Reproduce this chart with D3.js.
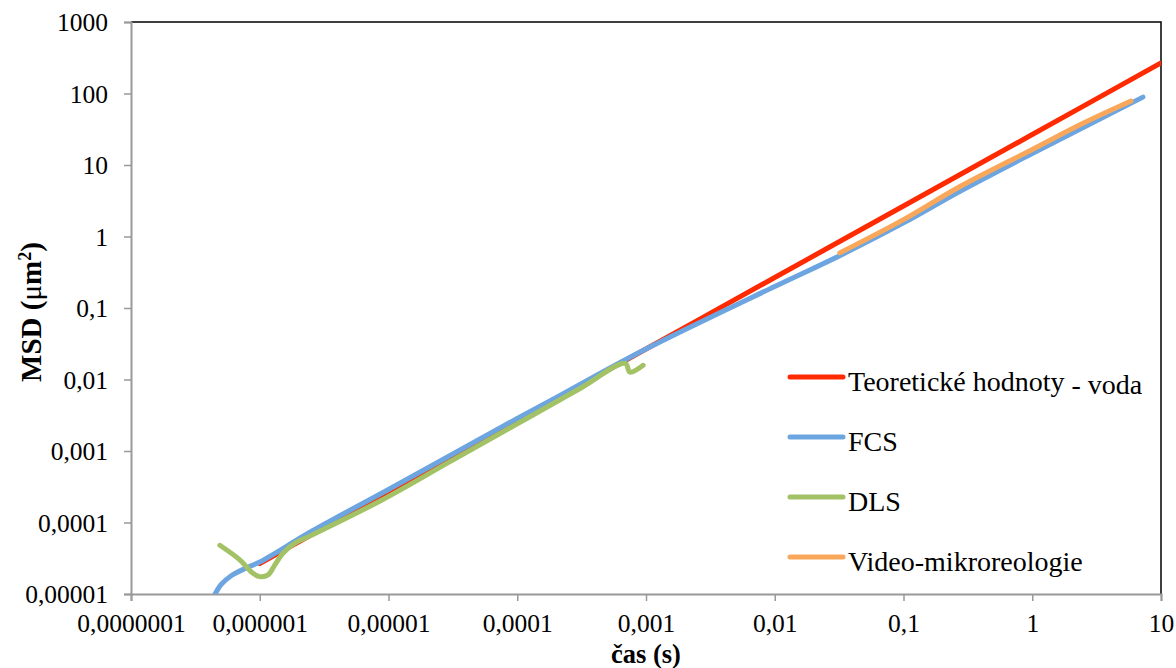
<!DOCTYPE html>
<html>
<head>
<meta charset="utf-8">
<script src="https://cdn.jsdelivr.net/npm/d3@7"></script>
<style>
  body { margin: 0; background: #fff; }
</style>
</head>
<body>
<div id="chart"></div>
<script>
// x: time (s), y: MSD (um^2)
const seriesNames = ["Teoretické hodnoty", "FCS", "DLS", "Video-mikroreologie"];
const seriesColors = ["#ff2a00", "#6ca5df", "#a3c266", "#f9a85b"];

const theoryT = [1e-6, 1e-5, 1e-4, 1e-3, 1e-2, 1e-1, 1, 10];
const theoryMsd = [2.67e-5, 2.67e-4, 2.67e-3, 0.0267, 0.267, 2.67, 26.7, 267];

const fcsT = [4.5e-7, 5e-7, 6e-7, 8e-7, 1e-6, 2.55e-6, 1e-5, 1e-4, 1.79e-4, 9e-4, 1e-2, 0.032, 0.1, 0.275, 1, 7.24];
const fcsMsd = [1.0e-5, 1.35e-5, 1.8e-5, 2.35e-5, 2.8e-5, 7.6e-5, 2.9e-4, 2.85e-3, 5.0e-3, 0.0243, 0.2, 0.54, 1.55, 4.3, 14.5, 89];

const dlsT = [4.9e-7, 7e-7, 8.7e-7, 1e-6, 1.16e-6, 1.31e-6, 1.52e-6, 1.88e-6, 2.46e-6, 8.6e-6, 3e-5, 1e-4, 3e-4, 6.9e-4, 7.5e-4, 9.5e-4];
const dlsMsd = [4.8e-5, 3.0e-5, 2.0e-5, 1.75e-5, 1.85e-5, 2.55e-5, 3.74e-5, 5.16e-5, 6.5e-5, 2.0e-4, 7.1e-4, 2.4e-3, 7.3e-3, 0.0168, 0.0127, 0.0158];

const videoT = [0.032, 0.1, 0.275, 1, 2.5, 5.85];
const videoMsd = [0.59, 1.72, 5.0, 16.5, 38.6, 78.5];

const xTicks = [1e-7, 1e-6, 1e-5, 1e-4, 1e-3, 1e-2, 1e-1, 1, 10];
const yTicks = [1e-5, 1e-4, 1e-3, 1e-2, 1e-1, 1, 10, 100, 1000];

const W = 1176, H = 668;
const M = {left: 131, top: 22, right: 15, bottom: 74};
const FONT = "Liberation Serif";

const svg = d3.select("#chart").append("svg")
    .attr("width", W)
    .attr("height", H)
    .attr("font-family", FONT);

const x = d3.scaleLog().domain([1e-7, 10]).range([M.left, W - M.right]);
const y = d3.scaleLog().domain([1e-5, 1000]).range([H - M.bottom, M.top]);

// Czech style numbers: 0,001
const fmt = v => {
    const e = Math.round(Math.log10(v));
    return e >= 0 ? String(Math.pow(10, e)) : "0," + "0".repeat(-e - 1) + "1";
};

// frame: top & right black
svg.append("path")
    .attr("d", `M${x(1e-7)},${y(1000)}H${x(10)}V${y(1e-5)}`)
    .attr("fill", "none")
    .attr("stroke", "#000")
    .attr("stroke-width", 1.5);

const xAxis = svg.append("g")
    .attr("transform", `translate(0,${y(1e-5)})`)
    .call(d3.axisBottom(x).tickValues(xTicks).tickFormat(fmt).tickSize(7).tickPadding(13));

const yAxis = svg.append("g")
    .attr("transform", `translate(${x(1e-7)},0)`)
    .call(d3.axisLeft(y).tickValues(yTicks).tickFormat(fmt).tickSize(7).tickPadding(16));

[xAxis, yAxis].forEach(g => {
    g.attr("font-family", FONT).attr("font-size", 25.5);
    g.select(".domain").attr("stroke", "#999").attr("stroke-width", 2);
    g.selectAll(".tick line").attr("stroke", "#999").attr("stroke-width", 1.5);
    g.selectAll(".tick text").attr("fill", "#000");
});
yAxis.selectAll(".tick text").attr("dy", "0.34em");

// axis titles
svg.append("text")
    .attr("x", (x(1e-7) + x(10)) / 2)
    .attr("y", 663)
    .attr("text-anchor", "middle")
    .attr("font-family", FONT)
    .attr("font-size", 26.5)
    .attr("font-weight", "bold")
    .text("čas (s)");

const yt = svg.append("text")
    .attr("transform", `translate(41,${(y(1e-5) + y(1000)) / 2 + 4}) rotate(-90)`)
    .attr("text-anchor", "middle")
    .attr("font-family", FONT)
    .attr("font-size", 29)
    .attr("font-weight", "bold");
yt.append("tspan").text("MSD (");
yt.append("tspan").attr("font-weight", "normal").text("μ");
yt.append("tspan").text("m");
yt.append("tspan").attr("dy", -10).attr("font-size", 18).text("2");
yt.append("tspan").attr("dy", 10).text(")");

// series
const series = [
    {t: theoryT, m: theoryMsd},
    {t: fcsT, m: fcsMsd},
    {t: dlsT, m: dlsMsd},
    {t: videoT, m: videoMsd}
];

const line = d3.line()
    .x(d => x(d[0]))
    .y(d => y(d[1]))
    .curve(d3.curveCatmullRom.alpha(0.5));

svg.append("clipPath").attr("id", "clip")
    .append("rect")
    .attr("x", M.left).attr("y", M.top)
    .attr("width", W - M.left - M.right)
    .attr("height", H - M.top - M.bottom);

svg.append("g").attr("clip-path", "url(#clip)")
    .selectAll("path")
    .data(series)
    .join("path")
    .attr("d", s => line(s.t.map((t, i) => [t, s.m[i]])))
    .attr("fill", "none")
    .attr("stroke", (s, i) => seriesColors[i])
    .attr("stroke-width", 5)
    .attr("stroke-linecap", "round")
    .attr("stroke-linejoin", "round");

// legend
const legend = svg.append("g")
    .selectAll("g")
    .data(seriesNames)
    .join("g")
    .attr("transform", (d, i) => `translate(790,${377 + i * 60})`);

legend.append("line")
    .attr("x1", 0).attr("x2", 53)
    .attr("stroke", (d, i) => seriesColors[i])
    .attr("stroke-width", 5)
    .attr("stroke-linecap", "round");

const lt = legend.append("text")
    .attr("x", 58)
    .attr("y", 14)
    .attr("font-family", FONT)
    .attr("font-size", 28);
lt.append("tspan").text(d => d);
lt.filter((d, i) => i === 0).append("tspan").attr("dy", 3).text(" - voda");
</script>
</body>
</html>
